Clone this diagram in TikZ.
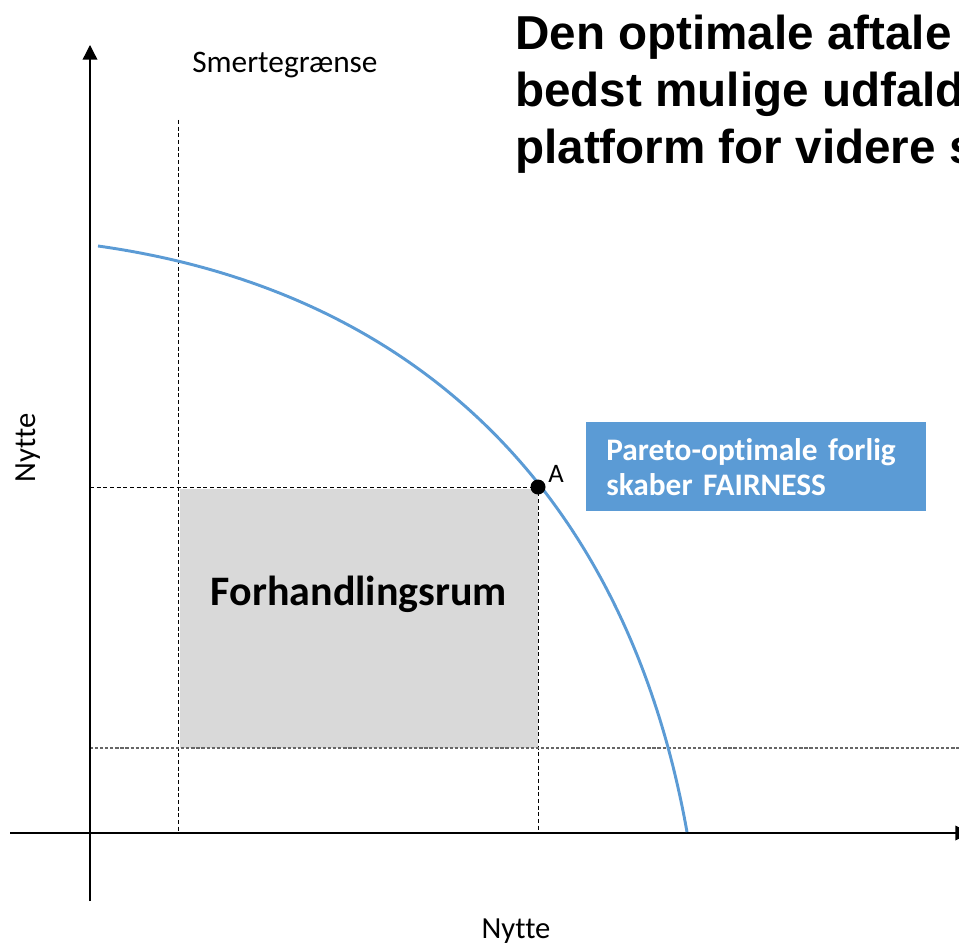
\documentclass[tikz,border=0pt]{standalone}
\usepackage{fontspec}
\setmainfont{Carlito}[Ligatures={NoCommon}]
\newfontfamily\titlefont{Liberation Sans}
\usetikzlibrary{arrows.meta}
\definecolor{paretoblue}{HTML}{5B9BD5}
\definecolor{rumgray}{HTML}{D9D9D9}
\begin{document}
\begin{tikzpicture}[x=0.75pt, y=-0.75pt,
    axis/.style={line width=1pt, -{Triangle[length=11pt, width=11pt]}},
    guide/.style={line width=0.75pt, dash pattern=on 3pt off 2pt},
    floorline/.style={line width=1.1pt, black!60, dash pattern=on 2.4pt off 1.4pt},
    frontier/.style={line width=2.2pt, paretoblue},
    label/.style={font=\fontsize{23}{27}\selectfont, inner sep=0pt},
    title/.style={font=\titlefont\bfseries\fontsize{35.7}{42}\selectfont, anchor=base west, inner sep=0pt},
    pareto/.style={fill=paretoblue, text=white, font=\bfseries\fontsize{23.5}{26.3}\selectfont, align=left,
        text width=225pt, inner xsep=15pt, minimum height=66.75pt, anchor=north west}]
	\useasboundingbox (0,0) rectangle (959,945);
	\clip (0,0) rectangle (959,945);
	\coordinate (O) at (90, 833);
	\coordinate (Ytop) at (90, 45);
	\coordinate (Ybot) at (90, 901);
	\coordinate (Xleft) at (10, 833);
	\coordinate (Xright) at (970, 833);
	\coordinate (S1) at (178, 120);
	\coordinate (S2) at (178, 833);
	\coordinate (A) at (538, 487);
	\coordinate (Ay) at (90, 487);
	\coordinate (Ax) at (538, 833);
	\coordinate (F1) at (90, 748);
	\coordinate (F2) at (959, 748);
	\coordinate (P0) at (98, 246);
	\coordinate (P1) at (687, 832);

	\fill [rumgray] (180, 489) rectangle (538, 748);
	\node [font=\bfseries\fontsize{31.5}{36}\selectfont, anchor=base, inner sep=0pt] (rum) at (359, 605) {Forhandlingsrum};

	\draw [guide] (S1) -- (S2);
	\draw [guide] (Ay) -- (A) -- (Ax);
	\draw [floorline] (F1) -- (F2);
	\draw [axis] (Ybot) -- (Ytop);
	\draw [axis] (Xleft) -- (Xright);

	\draw [frontier] (P0) .. controls (425, 292) and (628, 502) .. (P1);
	\fill (A) circle (7.5);
	\node [label, font=\fontsize{20}{24}\selectfont, anchor=base west] (Alabel) at (548, 482) {A};

	\node [label, font=\fontsize{23.5}{28}\selectfont, anchor=base west] (grense) at (192, 73) {Smertegrænse};
	\node [label, anchor=base] (nyttex) at (516, 938) {Nytte};
	\node [label, anchor=base, rotate=90] (nyttey) at (35, 448) {Nytte};

	\node [pareto] (forlig) at (586, 422) {Pareto-optimale forlig\\skaber FAIRNESS};

	\node [title] (title1) at (515, 50) {Den optimale aftale};
	\node [title] (title2) at (515, 107) {bedst mulige udfald};
	\node [title] (title3) at (515, 163) {platform for videre s};
\end{tikzpicture}
\end{document}
